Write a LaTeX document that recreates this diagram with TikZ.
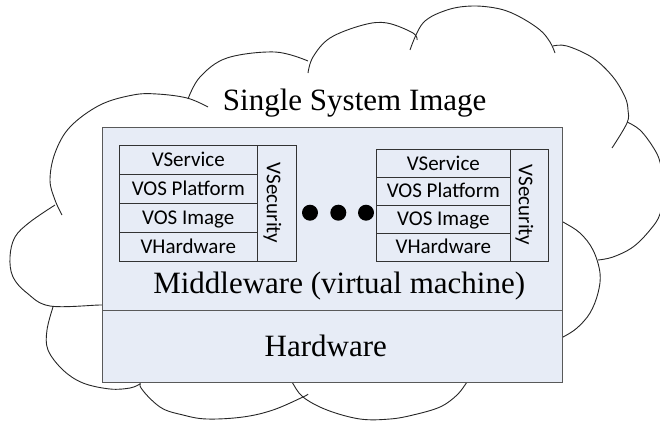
\documentclass[tikz,border=0pt]{standalone}
\usepackage{fontspec}
\setmainfont{Liberation Serif}
\newfontfamily\calfont{Carlito}
\definecolor{boxfill}{RGB}{231,236,246}
\tikzset{
  lobe/.style={draw=black!85, line width=0.9pt, smooth, tension=0.6},
  panel/.style={draw=black!65, fill=boxfill, line width=0.9pt, inner sep=0pt, anchor=north west},
  cell/.style={draw=black!80, fill=boxfill, line width=0.8pt, inner sep=0pt,
    text height=13.5pt, text depth=0pt, font=\calfont\fontsize{21}{25}\selectfont},
  bigtext/.style={anchor=base, inner sep=0pt, font=\fontsize{31}{36}\selectfont},
  blob/.style={circle, fill=black, inner sep=0pt, minimum size=16pt}
}
\begin{document}
\begin{tikzpicture}[x=1pt, y=-1pt]
\useasboundingbox (0,0) rectangle (660,423);
\clip (0,0) rectangle (660,423);
% cloud lobes
\draw[lobe] plot coordinates {(208,107) (187,98) (157,94) (133,95) (100,105) (70,127) (55,153) (50,180) (55,200) (62,215)};
\draw[lobe] plot coordinates {(188,99) (200,77) (227,58) (275,52) (308,61)};
\draw[lobe] plot coordinates {(308,73) (313,57) (330,38) (363,25) (387,23) (413,33) (417,40)};
\draw[lobe] plot coordinates {(410,50) (423,23) (447,10) (473,6) (500,9) (520,17) (540,30) (550,42) (555,53)};
\draw[lobe] plot coordinates {(553,46) (567,46) (593,58) (613,77) (625,97) (628,110) (627,123) (612,148)};
\draw[lobe] plot coordinates {(627,122) (640,130) (653,147) (660,162) (664,188) (660,214) (650,230) (633,247) (613,257) (598,260)};
\draw[lobe] plot coordinates {(555,218) (563,222) (580,233) (593,250) (600,273) (598,293) (590,313) (577,328) (563,337) (555,340)};
\draw[lobe] plot coordinates {(289,377) (292,382) (303,397) (327,410) (360,419) (390,419) (413,415) (440,407) (457,395) (467,382) (470,377)};
\draw[lobe] plot coordinates {(147,377) (140,386) (160,407) (183,415) (207,419) (243,417) (273,410) (303,397) (308,394)};
\draw[lobe] plot coordinates {(53,307) (47,330) (48,350) (63,370) (83,383) (110,389) (130,388) (140,384)};
\draw[lobe] plot coordinates {(55,205) (30,222) (15,237) (10,257) (13,277) (27,293) (50,306) (100,305) (108,305)};
% main panels
\node[panel, minimum width=460.6pt, minimum height=182.7pt] (mw) at (101.7,127.3) {};
\node[panel, minimum width=460.6pt, minimum height=71.7pt] (hw) at (101.7,310) {};
% titles
\node[bigtext] (title) at (354.7,110) {Single System Image};
\node[bigtext] (mwtext) at (339.2,293.3) {Middleware (virtual machine)};
\node[bigtext] (hwtext) at (325.8,356.7) {Hardware};
% left stack
\node[cell, minimum width=138pt, minimum height=28.925pt] (l1) at (188.3,159.76) {VService};
\node[cell, minimum width=138pt, minimum height=28.925pt] (l2) at (188.3,188.69) {VOS Platform};
\node[cell, minimum width=138pt, minimum height=28.925pt] (l3) at (188.3,217.61) {VOS Image};
\node[cell, minimum width=138pt, minimum height=28.925pt] (l4) at (188.3,246.54) {VHardware};
\node[cell, rotate=-90, text height=20.5pt, minimum width=115.7pt, minimum height=39.4pt] (ls) at (277,203.15) {VSecurity};
% right stack
\node[cell, minimum width=133.3pt, minimum height=27.925pt] (r1) at (443.35,163.26) {VService};
\node[cell, minimum width=133.3pt, minimum height=27.925pt] (r2) at (443.35,191.19) {VOS Platform};
\node[cell, minimum width=133.3pt, minimum height=27.925pt] (r3) at (443.35,219.11) {VOS Image};
\node[cell, minimum width=133.3pt, minimum height=27.925pt] (r4) at (443.35,247.04) {VHardware};
\node[cell, rotate=-90, text height=20.5pt, minimum width=111.7pt, minimum height=38.3pt] (rs) at (529.15,205.15) {VSecurity};
% ellipsis dots
\node[blob] (d1) at (310,212.7) {};
\node[blob] (d2) at (338.3,212.7) {};
\node[blob] (d3) at (366,212.7) {};
\end{tikzpicture}
\end{document}
